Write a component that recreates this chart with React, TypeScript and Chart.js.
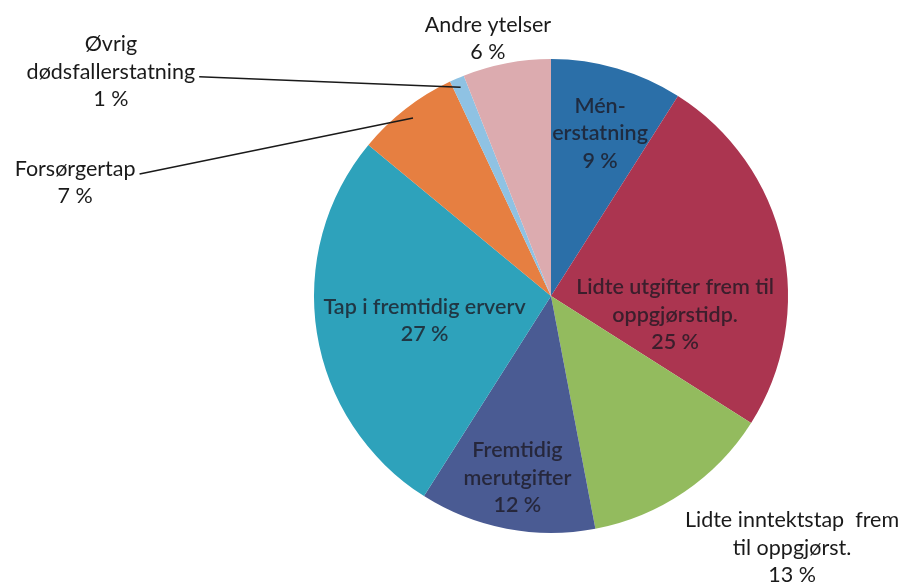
import React, { useEffect, useRef } from "react";
import { Chart, registerables } from "chart.js";

Chart.register(...registerables);

const categories = [
  "Mén-erstatning",
  "Lidte utgifter frem til oppgjørstidp.",
  "Lidte inntektstap frem til oppgjørst.",
  "Fremtidig merutgifter",
  "Tap i fremtidig erverv",
  "Forsørgertap",
  "Øvrig dødsfallerstatning",
  "Andre ytelser",
];
const values = [9, 25, 13, 12, 27, 7, 1, 6];
const labelLines = [
  ["Mén-", "erstatning"],
  ["Lidte utgifter frem til", "oppgjørstidp."],
  ["Lidte inntektstap  frem", "til oppgjørst."],
  ["Fremtidig", "merutgifter"],
  ["Tap i fremtidig erverv"],
  ["Forsørgertap"],
  ["Øvrig", "dødsfallerstatning"],
  ["Andre ytelser"],
];
const colors = [
  "#2b6fa8",
  "#ab3550",
  "#93bb5e",
  "#4a5b93",
  "#2ea2bb",
  "#e67f41",
  "#8fc2e3",
  "#dcabaf",
];

// label placement (styling): inside => angle offset (deg) + radial fraction; outside => offset in radius units
type Place =
  | { kind: "in"; off: number; r: number }
  | { kind: "out"; dx: number; dy: number; leader?: number; lineRow?: number };
const placements: Place[] = [
  { kind: "in", off: 0.5, r: 0.72 },
  { kind: "in", off: 20.9, r: 0.529 },
  { kind: "out", dx: 1.017, dy: 1.059 },
  { kind: "in", off: -0.3, r: 0.777 },
  { kind: "in", off: -1.7, r: 0.543 },
  { kind: "out", dx: -2.008, dy: -0.481, leader: 0.95, lineRow: 0 },
  { kind: "out", dx: -1.857, dy: -0.949, leader: 0.96, lineRow: 1 },
  { kind: "out", dx: -0.266, dy: -1.089 },
];

const FONT = "Lato, 'Open Sans', sans-serif";
const LINE_H = 27.5;
const OUT_SIZE = 21.5;
const IN_SIZE = 21.5;

const labelPlugin = {
  id: "pieLabels",
  afterDraw(chart: any) {
    const ctx = chart.ctx;
    const meta = chart.getDatasetMeta(0);
    ctx.save();
    ctx.textAlign = "center";
    ctx.textBaseline = "alphabetic";
    meta.data.forEach((arc: any, i: number) => {
      const p = arc.getProps(["x", "y", "startAngle", "endAngle", "outerRadius"], true);
      const mid = (p.startAngle + p.endAngle) / 2;
      const R = p.outerRadius;
      const pl = placements[i];
      const lines = labelLines[i];
      const pct = values[i] + " %";
      const all = [...lines, pct];
      let cx: number, cy: number, size: number;
      if (pl.kind === "in") {
        const a = mid + (pl.off * Math.PI) / 180;
        cx = p.x + Math.cos(a) * R * pl.r;
        cy = p.y + Math.sin(a) * R * pl.r;
        size = IN_SIZE;
        ctx.font = `600 ${size}px ${FONT}`;
        ctx.fillStyle = "rgba(28,24,34,0.78)";
      } else {
        cx = p.x + pl.dx * R;
        cy = p.y + pl.dy * R;
        size = OUT_SIZE;
        ctx.font = `400 ${size}px ${FONT}`;
        ctx.fillStyle = "#1a1a1a";
      }
      const capHalf = size * 0.36;
      const n = all.length;
      all.forEach((t, k) => {
        ctx.fillText(t, cx, cy + (k - (n - 1) / 2) * LINE_H + capHalf);
      });
      if (pl.kind === "out" && pl.leader) {
        const row = pl.lineRow ?? 0;
        const w = ctx.measureText(all[row]).width;
        const sx = cx + w / 2 + 4;
        const sy = cy + (row - (n - 1) / 2) * LINE_H + capHalf - 2;
        const ex = p.x + Math.cos(mid) * R * pl.leader;
        const ey = p.y + Math.sin(mid) * R * pl.leader;
        ctx.beginPath();
        ctx.moveTo(sx, sy);
        ctx.lineTo(ex, ey);
        ctx.strokeStyle = "#1a1a1a";
        ctx.lineWidth = 1.5;
        ctx.stroke();
      }
    });
    ctx.restore();
  },
};

export default function App() {
  const ref = useRef<HTMLCanvasElement | null>(null);
  useEffect(() => {
    document.body.style.margin = "0";
    const chart = new Chart(ref.current as HTMLCanvasElement, {
      type: "pie",
      data: {
        labels: categories,
        datasets: [
          {
            data: values,
            backgroundColor: colors,
            borderWidth: 0,
          },
        ],
      },
      options: {
        responsive: false,
        animation: false,
        layout: { padding: { left: 314, right: 114, top: 59, bottom: 50 } },
        plugins: {
          legend: { display: false },
          tooltip: { enabled: false },
        },
      },
      plugins: [labelPlugin],
    });
    return () => chart.destroy();
  }, []);
  return (
    <div style={{ width: 902, height: 583, background: "#fff" }}>
      <canvas ref={ref} width={902} height={583} />
    </div>
  );
}
